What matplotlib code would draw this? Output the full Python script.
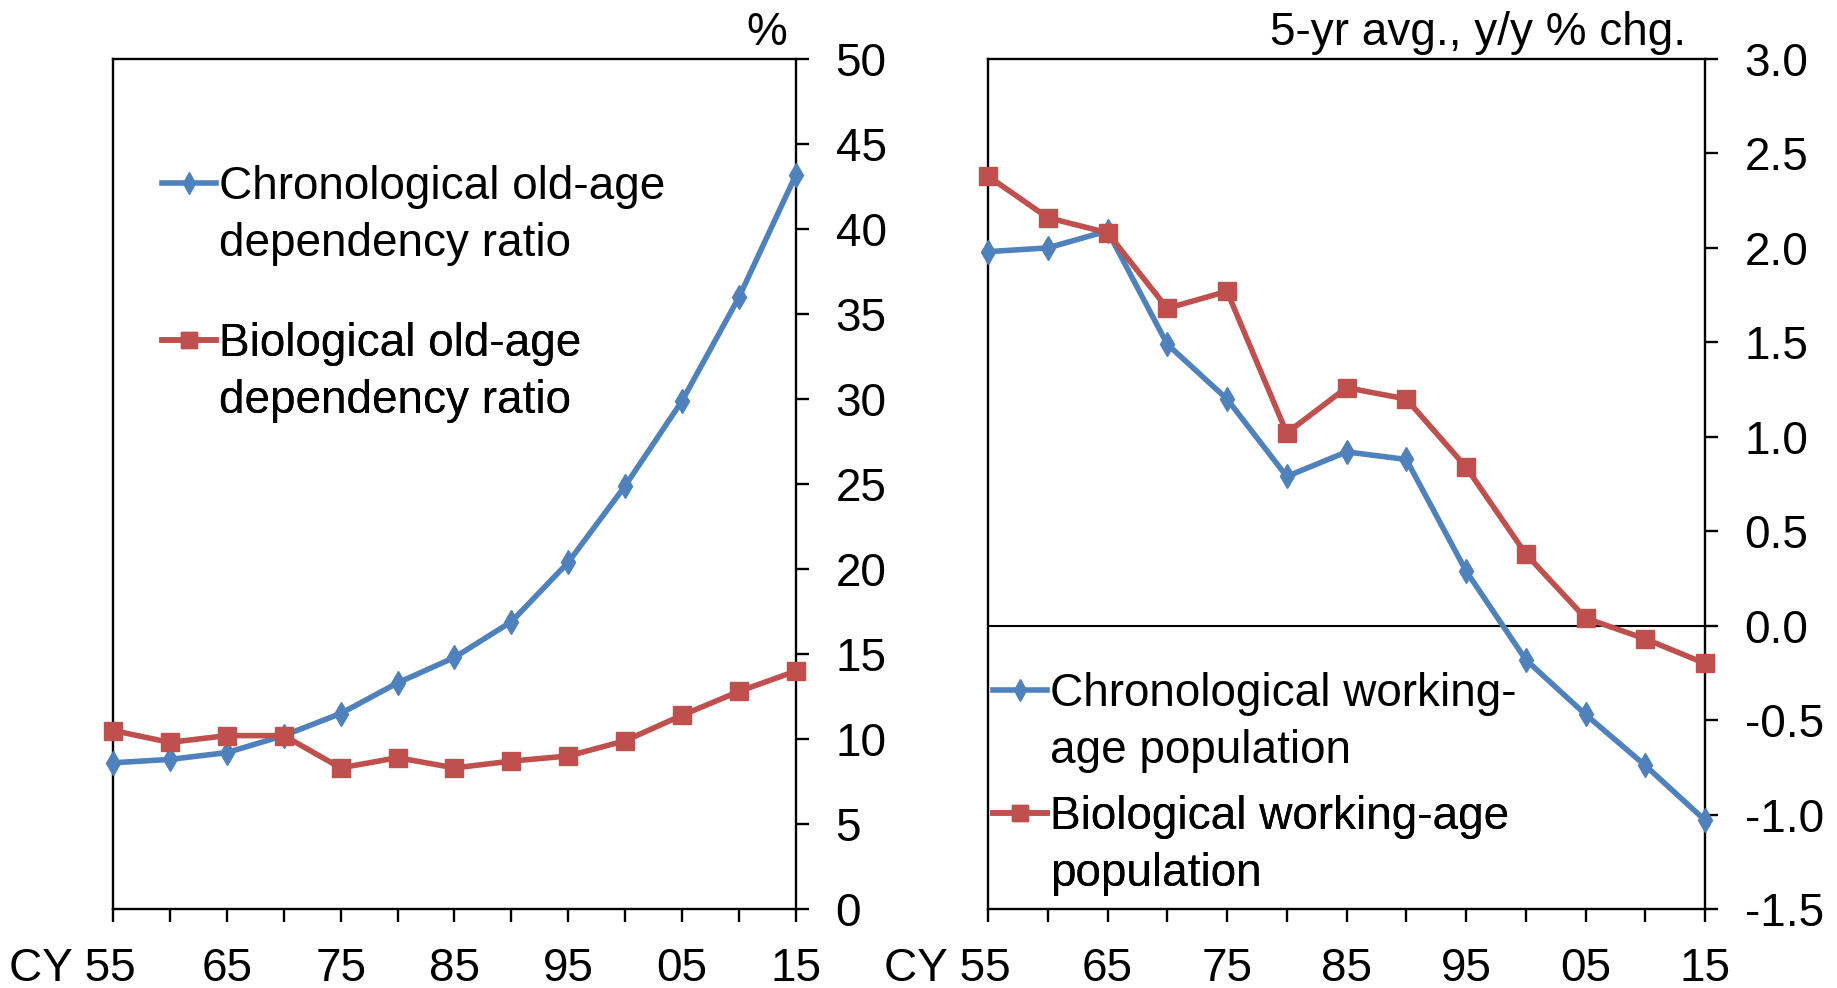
import matplotlib
matplotlib.use("Agg")
import matplotlib.pyplot as plt
from matplotlib.lines import Line2D
from matplotlib.transforms import ScaledTranslation

plt.rcParams['font.family'] = ['Liberation Sans', 'DejaVu Sans']
plt.rcParams['axes.unicode_minus'] = False

years = [1955, 1960, 1965, 1970, 1975, 1980, 1985, 1990, 1995, 2000, 2005, 2010, 2015]
xtick_labels = ["CY 55", "", "65", "", "75", "", "85", "", "95", "", "05", "", "15"]

chrono_oadr = [8.6, 8.8, 9.2, 10.2, 11.5, 13.3, 14.8, 16.9, 20.4, 24.9, 29.9, 36.0, 43.2]
bio_oadr = [10.5, 9.8, 10.2, 10.2, 8.3, 8.9, 8.3, 8.7, 9.0, 9.9, 11.4, 12.8, 14.0]

chrono_wap = [1.98, 2.00, 2.09, 1.49, 1.20, 0.79, 0.92, 0.88, 0.29, -0.18, -0.47, -0.74, -1.03]
bio_wap = [2.38, 2.16, 2.08, 1.68, 1.77, 1.02, 1.26, 1.20, 0.84, 0.38, 0.04, -0.07, -0.20]

left_yticks = list(range(0, 55, 5))
right_yticks = [-1.5, -1.0, -0.5, 0.0, 0.5, 1.0, 1.5, 2.0, 2.5, 3.0]

BLUE = "#4F81BD"
RED = "#C0504D"
FS_TICK = 33
FS_LEG = 33
LW = 4
W, H = 1837, 988

fig = plt.figure(figsize=(W / 100, H / 100), dpi=100)
axL = fig.add_axes([113 / W, 1 - 909 / H, (796 - 113) / W, (909 - 59) / H])
axR = fig.add_axes([988 / W, 1 - 909 / H, (1705 - 988) / W, (909 - 59) / H])


def style(ax, yticks, ylim, fmt):
    ax.set_xlim(years[0], years[-1])
    ax.set_ylim(*ylim)
    ax.set_xticks(years)
    ax.set_xticklabels(xtick_labels)
    ax.set_yticks(yticks)
    ax.set_yticklabels([fmt.format(v) for v in yticks])
    ax.yaxis.tick_right()
    ax.tick_params(axis='both', direction='out', length=9.5, width=1.7,
                   labelsize=FS_TICK, colors='black')
    ax.tick_params(axis='x', pad=18)
    ax.tick_params(axis='y', pad=19)
    for s in ax.spines.values():
        s.set_linewidth(1.7)
        s.set_color('black')
    lab = ax.get_xticklabels()[0]
    lab.set_horizontalalignment('right')
    lab.set_transform(lab.get_transform() + ScaledTranslation(0.225, 0, fig.dpi_scale_trans))


lC, = axL.plot(years, chrono_oadr, color=BLUE, lw=LW, marker='d', ms=12, mec=BLUE, clip_on=False, zorder=3)
lB, = axL.plot(years, bio_oadr, color=RED, lw=LW, marker='s', ms=13, mec=RED, clip_on=False, zorder=4)
style(axL, left_yticks, (0, 50), "{:d}")

axR.axhline(0, color='black', lw=1.5, zorder=2)
rC, = axR.plot(years, chrono_wap, color=BLUE, lw=LW, marker='d', ms=12, mec=BLUE, clip_on=False, zorder=3)
rB, = axR.plot(years, bio_wap, color=RED, lw=LW, marker='s', ms=13, mec=RED, clip_on=False, zorder=4)
style(axR, right_yticks, (-1.5, 3.0), "{:.1f}")

axL.text(0.987, 1.016, "%", transform=axL.transAxes, ha='right', va='baseline', fontsize=FS_TICK)
axR.text(0.9735, 1.016, "5-yr avg., y/y % chg.", transform=axR.transAxes, ha='right', va='baseline', fontsize=FS_TICK)

blank = Line2D([], [], linestyle='none', marker=None)


def two_row_legend(ax, handle, line1, line2, x, y):
    leg = ax.legend([handle, blank], [line1, line2], loc='upper left',
                    bbox_to_anchor=(x / W, 1 - y / H), bbox_transform=fig.transFigure,
                    frameon=False, fontsize=FS_LEG, borderpad=0, borderaxespad=0,
                    handlelength=1.17, handletextpad=0.07, labelspacing=0.29,
                    markerscale=0.9)
    ax.add_artist(leg)
    return leg


two_row_legend(axL, lC, "Chronological old-age", "dependency ratio", 162, 165)
two_row_legend(axL, lB, "Biological old-age", "dependency ratio", 162, 322)
two_row_legend(axR, rC, "Chronological working-", "age population", 993, 672)
two_row_legend(axR, rB, "Biological working-age", "population", 993, 795)

fig.savefig("out.png", dpi=100)
